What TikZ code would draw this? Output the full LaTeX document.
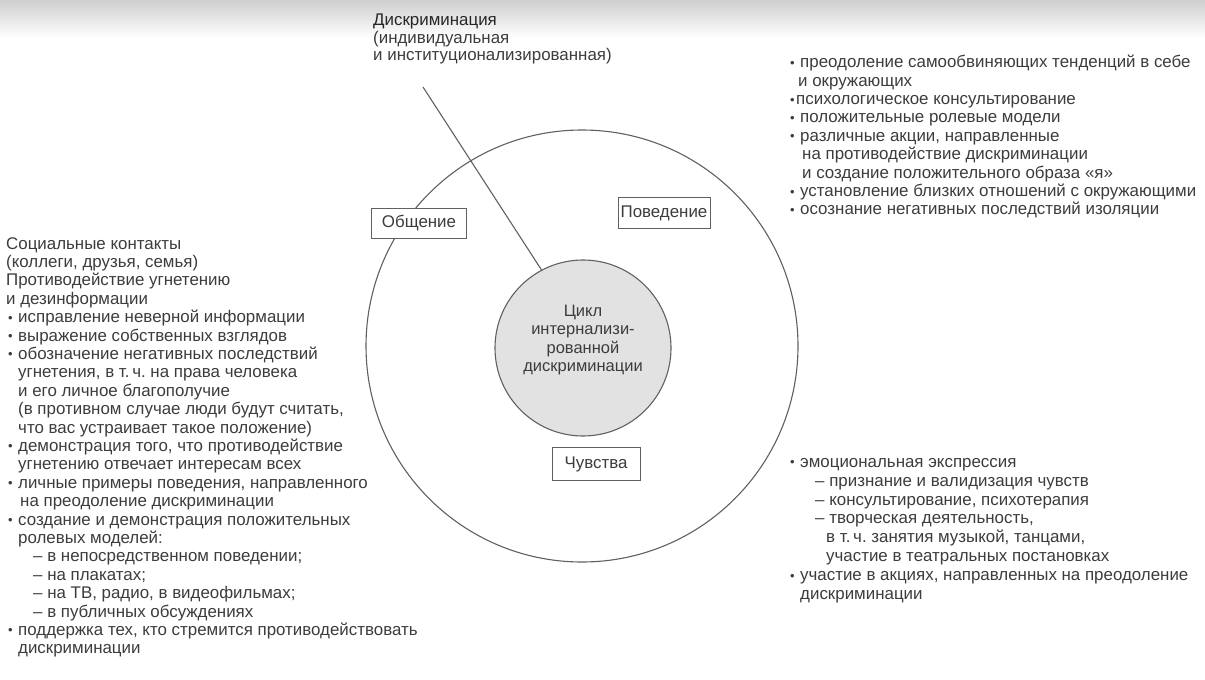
\documentclass[tikz,border=0pt]{standalone}
\usepackage{fontspec}
\setmainfont{Liberation Sans}
\frenchspacing
\definecolor{ink}{HTML}{3C3C3C}
\definecolor{inkdark}{HTML}{262626}
\definecolor{linec}{HTML}{606060}
\definecolor{innerfill}{HTML}{E2E2E2}
\newcommand\bl{\makebox[10pt][l]{\raisebox{0.5pt}{\fontsize{13}{13}\selectfont •}}}
\newcommand\bln{\makebox[6pt][l]{\raisebox{0.5pt}{\fontsize{13}{13}\selectfont •}}}
\newcommand\ind[1]{\hspace*{#1pt}}
\begin{document}
\begin{tikzpicture}[x=1pt,y=-1pt,
  txt/.style={anchor=north west, inner sep=0pt, align=left, text=ink,
    font=\fontsize{16.9}{18.4}\selectfont},
  lbox/.style={draw=linec, line width=1pt, fill=white, text=ink, inner sep=0pt,
    font=\fontsize{16.9}{18.4}\selectfont},
  ring/.style={circle, draw=linec, line width=1.1pt, inner sep=0pt},
  conn/.style={draw=linec, line width=1.1pt}]
\useasboundingbox (0,0) rectangle (1205,680);
% scan shading at top
\shade[top color=gray!38, bottom color=white] (0,0) rectangle (1205,38);

% circles
\node[ring, minimum size=432pt] (outer) at (582,346) {};
\node[ring, fill=innerfill, minimum size=176pt] (inner) at (583,348) {};
\node[inner sep=0pt, align=center, text=ink, font=\fontsize{16.5}{18.4}\selectfont] (cycle) at (583,340)
  {Цикл\\интернализи-\\рованной\\дискриминации};

% boxes
\node[lbox, minimum width=95pt, minimum height=30pt] (obsh) at (419,223) {Общение};
\node[lbox, minimum width=92pt, minimum height=31pt] (pov) at (664,213) {Поведение};
\node[lbox, minimum width=88pt, minimum height=33pt] (chuv) at (596,464) {Чувства};

% title and connector
\node[txt, text=inkdark] (disc) at (373,14)
  {Дискриминация\\[-1pt]{\color{ink}(индивидуальная}\\[-1pt]{\color{ink}и институционализированная)}};
\coordinate (dtop) at (423,87);
\draw[conn] (dtop) -- (inner.118);

% top right block
\node[txt] (behav) at (790,55)
  {\bl преодоление самообвиняющих тенденций в себе\\
   \ind{8}и окружающих\\
   \bln психологическое консультирование\\
   \bl положительные ролевые модели\\
   \bl различные акции, направленные\\
   \ind{12}на противодействие дискриминации\\
   \ind{12}и создание положительного образа «я»\\
   \bl установление близких отношений с окружающими\\
   \bl осознание негативных последствий изоляции};

% left block
\node[txt] (comm) at (6,237)
  {Социальные контакты\\
   (коллеги, друзья, семья)\\
   Противодействие угнетению\\
   и дезинформации\\
   \ind{2}\bl исправление неверной информации\\
   \ind{2}\bl выражение собственных взглядов\\
   \ind{2}\bl обозначение негативных последствий\\
   \ind{12}угнетения, в т.\,ч. на права человека\\
   \ind{12}и его личное благополучие\\
   \ind{12}(в противном случае люди будут считать,\\
   \ind{12}что вас устраивает такое положение)\\
   \ind{2}\bl демонстрация того, что противодействие\\
   \ind{12}угнетению отвечает интересам всех\\
   \ind{2}\bl личные примеры поведения, направленного\\
   \ind{14}на преодоление дискриминации\\
   \ind{2}\bl создание и демонстрация положительных\\
   \ind{12}ролевых моделей:\\
   \ind{27}– в непосредственном поведении;\\
   \ind{27}– на плакатах;\\
   \ind{27}– на ТВ, радио, в видеофильмах;\\
   \ind{27}– в публичных обсуждениях\\
   \ind{2}\bl поддержка тех, кто стремится противодействовать\\
   \ind{12}дискриминации};

% bottom right block
\node[txt, font=\fontsize{16.9}{18.9}\selectfont] (feel) at (790,458)
  {\bl эмоциональная экспрессия\\
   \ind{25}– признание и валидизация чувств\\
   \ind{25}– консультирование, психотерапия\\
   \ind{25}– творческая деятельность,\\
   \ind{36}в т.\,ч. занятия музыкой, танцами,\\
   \ind{36}участие в театральных постановках\\
   \bl участие в акциях, направленных на преодоление\\
   \ind{10}дискриминации};
\end{tikzpicture}
\end{document}
